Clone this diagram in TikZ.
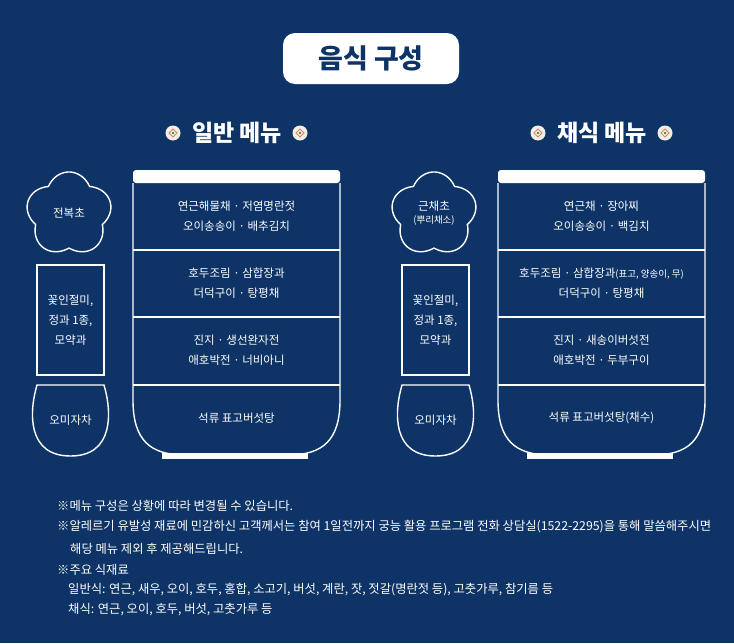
\documentclass[tikz,border=0pt]{standalone}
\usepackage{fontspec}
\setmainfont{Noto Sans CJK KR}
\definecolor{navy}{HTML}{0E3366}
\definecolor{cream}{HTML}{F3EEE0}
\definecolor{petal}{HTML}{D9837A}
\begin{document}
\begin{tikzpicture}[x=1pt,y=-1pt,
  wl/.style={draw=white,line width=1.4pt},
  txt/.style={text=white,font=\fontsize{11.5}{20}\selectfont,align=center},
  note/.style={text=white,font=\fontsize{12.3}{14}\selectfont,anchor=west,inner sep=0},
  sub/.style={text=white,font=\fontsize{23}{25}\selectfont\bfseries},
  icon/.pic={\fill[cream] (0,0) circle (7.5);
    \draw[petal,line width=1pt] (0,-4)--(4,0)--(0,4)--(-4,0)--cycle;
    \fill[green!50!black] (0,0) circle (1.2);}]
\fill[navy] (0,0) rectangle (734,643);
\useasboundingbox (0,0) rectangle (734,643);
% title
\node[fill=white,rounded corners=12pt,minimum width=176pt,minimum height=51pt,
  text=navy,font=\fontsize{27}{30}\selectfont\bfseries] (title) at (371,58.5) {음식 구성};
\foreach \ox/\nm in {0/일반 메뉴,365/채식 메뉴}{
  \begin{scope}[shift={(\ox,0)}]
  \node[sub] (sub\ox) at (237,133) {\nm};
  \pic at (173,133) {icon}; \pic at (300,133) {icon};
  % flower
  \draw[wl,domain=0:360,samples=300,smooth] plot ({69+(35+8*abs(cos(2.5*(\x-90))))*cos(\x)},{214-(34+8*abs(cos(2.5*(\x-90))))*sin(\x)});
  % rect
  \draw[wl] (37,265) rectangle (104,375);
  \node[txt] (rc\ox) at (70.5,320) {꽃인절미,\\정과 1종,\\모약과};
  % cup
  \draw[wl] (37,385) -- (104,385) .. controls (112,412) and (114,456) .. (70.5,456) .. controls (27,456) and (29,412) .. (37,385) -- cycle;
  \node[txt] (cup\ox) at (70.5,420) {오미자차};
  % bowl
  \draw[wl] (133,183) -- (133,400) .. controls (133,440) and (150,455) .. (185,455) -- (288,455) .. controls (323,455) and (340,440) .. (340,400) -- (340,183);
  \fill[white,rounded corners=3pt] (133,183) -- (133,170) -- (340,170) -- (340,183) -- cycle;
  \fill[white] (162,453) rectangle (308,459);
  \draw[wl] (133,250) -- (340,250) (133,317) -- (340,317) (133,385) -- (340,385);
  \end{scope}}
\node[txt] (f1) at (69,213) {전복초};
\node[txt,font=\fontsize{11.5}{13}\selectfont] (f2) at (434,213) {근채초\\{\fontsize{9.5}{12}\selectfont(뿌리채소)}};
\node[txt] (a1) at (236.5,216) {연근해물채 · 저염명란젓\\오이송송이 · 배추김치};
\node[txt] (a2) at (236.5,283) {호두조림 · 삼합장과\\더덕구이 · 탕평채};
\node[txt] (a3) at (236.5,350) {진지 · 생선완자전\\애호박전 · 너비아니};
\node[txt] (a4) at (236.5,418) {석류 표고버섯탕};
\node[txt] (b1) at (601.5,216) {연근채 · 장아찌\\오이송송이 · 백김치};
\node[txt] (b2) at (601.5,283) {호두조림 · 삼합장과{\fontsize{9.5}{11}\selectfont(표고, 양송이, 무)}\\더덕구이 · 탕평채};
\node[txt] (b3) at (601.5,350) {진지 · 새송이버섯전\\애호박전 · 두부구이};
\node[txt] (b4) at (601.5,418) {석류 표고버섯탕(채수)};
% notes
\node[note] (n1) at (57,506) {※메뉴 구성은 상황에 따라 변경될 수 있습니다.};
\node[note] (n2) at (57,527) {※알레르기 유발성 재료에 민감하신 고객께서는 참여 1일전까지 궁능 활용 프로그램 전화 상담실(1522-2295)을 통해 말씀해주시면};
\node[note] (n3) at (70,549) {해당 메뉴 제외 후 제공해드립니다.};
\node[note] (n4) at (57,570) {※주요 식재료};
\node[note] (n5) at (68,590) {일반식: 연근, 새우, 오이, 호두, 홍합, 소고기, 버섯, 계란, 잣, 젓갈(명란젓 등), 고춧가루, 참기름 등};
\node[note] (n6) at (68,610) {채식: 연근, 오이, 호두, 버섯, 고춧가루 등};
\end{tikzpicture}
\end{document}
